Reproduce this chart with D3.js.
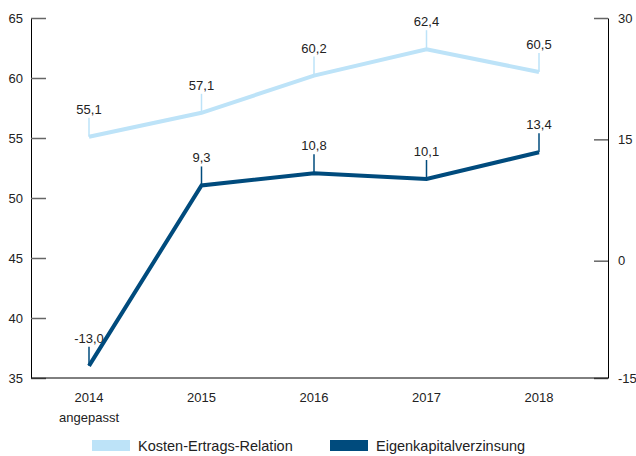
<!DOCTYPE html>
<html>
<head>
<meta charset="utf-8">
<script src="https://cdn.jsdelivr.net/npm/d3@7"></script>
<style>
  body { margin: 0; background: #fff; }
  svg { display: block; font-family: 'Liberation Sans', Arial, sans-serif; }
  .axis text { font-size: 13px; fill: #222; }
  .axis .domain { stroke: #000; }
  .axis .tick line { stroke: #666; stroke-width: 1.5; }
  .val { font-size: 13px; fill: #222; text-anchor: middle; }
</style>
</head>
<body>
<div id="chart"></div>
<script>
// values
const years = ['2014', '2015', '2016', '2017', '2018']
const subLabels = ['angepasst', '', '', '', '']
const costIncome = [55.1, 57.1, 60.2, 62.4, 60.5] // Kosten-Ertrags-Relation (left)
const roe = [-13.0, 9.3, 10.8, 10.1, 13.4] // Eigenkapitalverzinsung (right)
const leftTicks = [35, 40, 45, 50, 55, 60, 65]
const rightTicks = [-15, 0, 15, 30]
const seriesNames = ['Kosten-Ertrags-Relation', 'Eigenkapitalverzinsung']
const colors = ['#bde3f8', '#004b7d']

// german style: comma decimal, plain hyphen minus
const locale = d3.formatLocale({ decimal: ',', thousands: '.', grouping: [3], currency: ['', ' €'], minus: '-' })
const fmt = locale.format('.1f')
const fmtTick = locale.format('d')

const W = 636
const H = 456
const margin = { top: 18, right: 28, bottom: 78, left: 31 }
const width = W - margin.left - margin.right
const height = H - margin.top - margin.bottom

const svg = d3.select('#chart').append('svg')
  .attr('width', W)
  .attr('height', H)

const g = svg.append('g')
  .attr('transform', 'translate(' + margin.left + ',' + margin.top + ')')

const x = d3.scalePoint()
  .domain(years)
  .range([58, 508])

const yLeft = d3.scaleLinear()
  .domain([35, 65])
  .range([height, 0])

// right axis is slightly offset in the original, -15 sits on the baseline
const yRight = d3.scaleLinear()
  .domain([-14.5, 30])
  .range([height, 0])
  .clamp(true)

// left axis
g.append('g')
  .attr('class', 'axis')
  .call(d3.axisLeft(yLeft).tickValues(leftTicks).tickFormat(fmtTick)
    .tickSizeInner(-15).tickSizeOuter(0).tickPadding(8))

// right axis
g.append('g')
  .attr('class', 'axis')
  .attr('transform', 'translate(' + width + ',0)')
  .call(d3.axisRight(yRight).tickValues(rightTicks).tickFormat(fmtTick)
    .tickSizeInner(-14).tickSizeOuter(0).tickPadding(10))

// bottom axis
const xAxis = g.append('g')
  .attr('class', 'axis')
  .attr('transform', 'translate(0,' + height + ')')

xAxis.append('line')
  .attr('x1', 0)
  .attr('x2', width)
  .attr('stroke', '#000')

xAxis.selectAll('.year')
  .data(years)
  .enter().append('text')
  .attr('class', 'year')
  .attr('x', d => x(d))
  .attr('y', 24)
  .attr('text-anchor', 'middle')
  .text(d => d)

xAxis.selectAll('.sub')
  .data(years)
  .enter().append('text')
  .attr('class', 'sub')
  .attr('x', d => x(d))
  .attr('y', 44)
  .attr('text-anchor', 'middle')
  .text((d, i) => subLabels[i])

const drawSeries = (values, yScale, color) => {
  const pts = values.map((v, i) => ({ year: years[i], v }))

  // leaders + labels
  const lab = g.append('g')
  lab.selectAll('line')
    .data(pts)
    .enter().append('line')
    .attr('x1', d => x(d.year))
    .attr('x2', d => x(d.year))
    .attr('y1', d => yScale(d.v))
    .attr('y2', d => yScale(d.v) - 19)
    .attr('stroke', color)
    .attr('stroke-width', 1.5)

  lab.selectAll('text')
    .data(pts)
    .enter().append('text')
    .attr('class', 'val')
    .attr('x', d => x(d.year))
    .attr('y', d => yScale(d.v) - 23)
    .text(d => fmt(d.v))

  g.append('path')
    .datum(pts)
    .attr('fill', 'none')
    .attr('stroke', color)
    .attr('stroke-width', 4)
    .attr('stroke-linejoin', 'miter')
    .attr('d', d3.line()
      .x(d => x(d.year))
      .y(d => yScale(d.v))
    )
}

drawSeries(costIncome, yLeft, colors[0])
drawSeries(roe, yRight, colors[1])

// legend
const legendX = [92, 330]
const legend = svg.append('g')
  .selectAll('g')
  .data(seriesNames)
  .enter().append('g')
  .attr('transform', (d, i) => 'translate(' + legendX[i] + ',440)')

legend.append('rect')
  .attr('width', 38)
  .attr('height', 11)
  .attr('fill', (d, i) => colors[i])

legend.append('text')
  .attr('x', 46)
  .attr('y', 10.5)
  .style('font-size', '14.5px')
  .attr('fill', '#222')
  .text(d => d)
</script>
</body>
</html>
